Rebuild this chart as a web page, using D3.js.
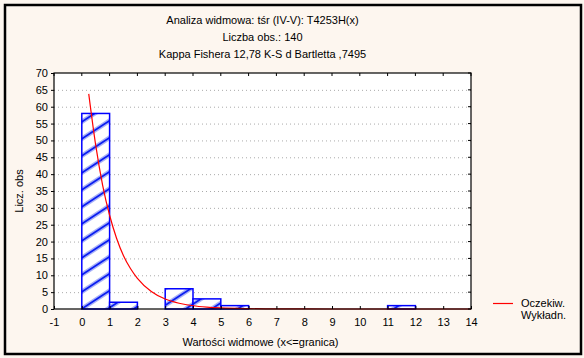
<!DOCTYPE html>
<html><head><meta charset="utf-8">
<script src="https://cdn.jsdelivr.net/npm/d3@7"></script>
<style>body{margin:0;background:#fff;}svg{display:block;font-family:Arial,"Liberation Sans",sans-serif;}</style>
</head><body>
<script>
const titleLines = ["Analiza widmowa: tśr (IV-V): T4253H(x)", "Liczba obs.: 140", "Kappa Fishera 12,78 K-S d Bartletta ,7495"];
const binStarts = [0, 1, 2, 3, 4, 5, 11];
const binCounts = [58, 2, 0, 6, 3, 1, 1];
const curveX = [0.25, 0.5, 0.75, 1, 1.25, 1.5, 1.75, 2, 2.5, 3, 3.5, 4, 4.5, 5, 6, 7, 8, 10, 12, 14];
const curveY = [63.8, 48.6, 36.7, 27.8, 21.0, 15.8, 12.0, 9.1, 5.2, 2.95, 1.7, 0.96, 0.55, 0.31, 0.1, 0.03, 0.01, 0, 0, 0];
const xTicks = d3.range(-1, 15);
const yTicks = d3.range(0, 71, 5);
const legendLabels = ["Oczekiw.", "Wykładn."];

const W = 584, H = 358;
const svg = d3.select("body").append("svg").attr("width", W).attr("height", H);
svg.append("rect").attr("width", W).attr("height", H).attr("fill", "#fdf6ef");
svg.append("rect").attr("x", 5).attr("y", 5).attr("width", W - 8).attr("height", H - 9)
  .attr("fill", "none").attr("stroke", "#000").attr("stroke-width", 2.5);

const L = 54, R = 471, T = 73, B = 309;
const x = d3.scaleLinear().domain([-1, 14]).range([L, R]);
const y = d3.scaleLinear().domain([0, 70]).range([B, T]);

const defs = svg.append("defs");
const pw = 26, ph = 17;
const pat = defs.append("pattern").attr("id", "hatch").attr("patternUnits", "userSpaceOnUse")
  .attr("width", pw).attr("height", ph).attr("patternTransform", "translate(2,4)");
pat.append("rect").attr("width", pw).attr("height", ph).attr("fill", "#fff");
[[-pw, ph, pw, -ph], [0, ph, pw, 0], [0, 2 * ph, 2 * pw, 0]].forEach(([a, b, c, d]) => {
  pat.append("line").attr("x1", a).attr("y1", b).attr("x2", c).attr("y2", d)
    .attr("stroke", "#a9b1f8").attr("stroke-width", 4.5);
  pat.append("line").attr("x1", a).attr("y1", b).attr("x2", c).attr("y2", d)
    .attr("stroke", "#0a1ef0").attr("stroke-width", 1.8);
});

svg.append("rect").attr("x", L).attr("y", T).attr("width", R - L).attr("height", B - T).attr("fill", "#fff");

// grid
svg.append("g").selectAll("line").data(yTicks.filter(d => d > 0 && d < 70)).join("line")
  .attr("x1", L).attr("x2", R).attr("y1", d => y(d) + 0.5).attr("y2", d => y(d) + 0.5)
  .attr("stroke", "#aaa").attr("stroke-width", 1).attr("stroke-dasharray", "1,3");

// bars
const bars = binStarts.map((s, i) => ({s, c: binCounts[i]})).filter(d => d.c > 0);
svg.append("g").selectAll("rect").data(bars).join("rect")
  .attr("x", d => x(d.s)).attr("y", d => y(d.c))
  .attr("width", d => x(d.s + 1) - x(d.s)).attr("height", d => y(0) - y(d.c))
  .attr("fill", "url(#hatch)").attr("stroke", "#0000ff").attr("stroke-width", 1.5);

// curve
const pts = curveX.map((v, i) => [v, curveY[i]]);
svg.append("path").datum(pts)
  .attr("d", d3.line().x(d => x(d[0])).y(d => y(d[1])).curve(d3.curveMonotoneX))
  .attr("fill", "none").attr("stroke", "#ff0000").attr("stroke-width", 1.2);

// axes frame
svg.append("rect").attr("x", L).attr("y", T).attr("width", R - L).attr("height", B - T)
  .attr("fill", "none").attr("stroke", "#000").attr("stroke-width", 1.2);

const fs = 11;
// y axis
const ya = svg.append("g").attr("transform", `translate(${L},0)`)
  .call(d3.axisLeft(y).tickValues(yTicks).tickSize(3).tickPadding(3));
ya.select(".domain").remove();
ya.selectAll("text").attr("font-size", fs).attr("fill", "#000").attr("font-family", "Arial, Liberation Sans");
ya.selectAll("line").attr("stroke", "#000");
// right inward ticks
svg.append("g").selectAll("line").data(yTicks).join("line")
  .attr("x1", R).attr("x2", R - 3).attr("y1", d => y(d)).attr("y2", d => y(d)).attr("stroke", "#000");
// x axis
const xa = svg.append("g").attr("transform", `translate(0,${B})`)
  .call(d3.axisBottom(x).tickValues(xTicks).tickSize(-3).tickPadding(9).tickFormat(d => String(d)));
xa.select(".domain").remove();
xa.selectAll("text").attr("font-size", fs).attr("fill", "#000").attr("font-family", "Arial, Liberation Sans");
xa.selectAll("line").attr("stroke", "#000");
svg.append("g").selectAll("line").data(xTicks).join("line")
  .attr("x1", d => x(d)).attr("x2", d => x(d)).attr("y1", T).attr("y2", T + 3).attr("stroke", "#000");

// titles
svg.append("g").selectAll("text").data(titleLines).join("text")
  .attr("x", (L + R) / 2).attr("y", (d, i) => 24 + i * 17).attr("text-anchor", "middle")
  .attr("font-size", fs).attr("fill", "#000").text(d => d);

svg.append("text").attr("transform", `translate(23,${(T + B) / 2}) rotate(-90)`)
  .attr("text-anchor", "middle").attr("font-size", fs).text("Licz. obs");
svg.append("text").attr("x", (L + R) / 2 - 2).attr("y", 346).attr("text-anchor", "middle")
  .attr("font-size", fs).text("Wartości widmowe (x<=granica)");

// legend
svg.append("line").attr("x1", 493).attr("x2", 513).attr("y1", 303.5).attr("y2", 303.5)
  .attr("stroke", "#ff0000").attr("stroke-width", 1.2);
svg.append("g").selectAll("text").data(legendLabels).join("text")
  .attr("x", 521).attr("y", (d, i) => 307 + i * 12).attr("font-size", fs).text(d => d);
</script>
</body></html>
